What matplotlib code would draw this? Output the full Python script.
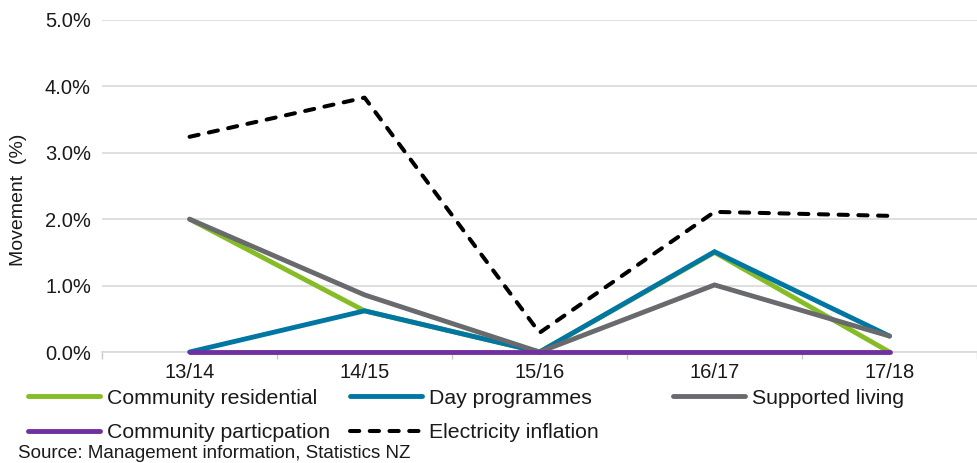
import matplotlib
matplotlib.use("Agg")
import matplotlib.pyplot as plt
from matplotlib.ticker import FuncFormatter, FixedLocator

plt.rcParams['font.family'] = ['Liberation Sans', 'DejaVu Sans']

years = ['13/14', '14/15', '15/16', '16/17', '17/18']
community_residential = [2.0, 0.62, 0.0, 1.50, 0.0]
day_programmes = [0.0, 0.62, 0.0, 1.51, 0.24]
supported_living = [2.0, 0.86, 0.0, 1.01, 0.24]
community_participation = [0.0, 0.0, 0.0, 0.0, 0.0]
electricity_inflation = [3.24, 3.83, 0.29, 2.11, 2.05]

GREEN = '#86BC25'
BLUE = '#0076A3'
GREY = '#696A6D'
PURPLE = '#7030A0'

fig = plt.figure(figsize=(9.77, 4.63), dpi=100)
ax = fig.add_axes([0.1045, 0.2397, 0.8955, 0.7173])

x = list(range(len(years)))
lw = 3.5
l1, = ax.plot(x, community_residential, color=GREEN, lw=lw, solid_capstyle='round',
              solid_joinstyle='miter', label='Community residential', zorder=3, clip_on=False)
l2, = ax.plot(x, day_programmes, color=BLUE, lw=lw, solid_capstyle='round',
              solid_joinstyle='miter', label='Day programmes', zorder=4, clip_on=False)
l3, = ax.plot(x, supported_living, color=GREY, lw=lw, solid_capstyle='round',
              solid_joinstyle='miter', label='Supported living', zorder=5, clip_on=False)
l4, = ax.plot(x, community_participation, color=PURPLE, lw=lw, solid_capstyle='round',
              label='Community particpation', zorder=6, clip_on=False)
l5, = ax.plot(x, electricity_inflation, color='black', lw=2.9, dashes=(2.3, 2.6),
              dash_capstyle='round', label='Electricity inflation', zorder=7)

ax.set_xlim(-0.5, len(years) - 0.5)
ax.set_ylim(0, 5)
ax.set_yticks([0, 1, 2, 3, 4, 5])
ax.yaxis.set_major_formatter(FuncFormatter(lambda v, p: '%.1f%%' % v))
ax.grid(axis='y', color='#D9D9D9', lw=1.2, zorder=0)
ax.set_axisbelow(True)

# category labels centred, tick marks between categories
ax.set_xticks(x)
ax.set_xticklabels(years)
ax.xaxis.set_minor_locator(FixedLocator([i - 0.5 for i in range(len(years) + 1)]))
ax.tick_params(axis='x', which='major', length=0, pad=8, labelsize=14.5, colors='#1a1a1a')
ax.tick_params(axis='x', which='minor', length=5, width=1, color='#C8C8C8', direction='out')
ax.tick_params(axis='y', length=0, pad=8, labelsize=14.5, colors='#1a1a1a')

for s in ['top', 'right', 'left']:
    ax.spines[s].set_visible(False)
ax.spines['bottom'].set_color('#D9D9D9')
ax.spines['bottom'].set_linewidth(1.2)

fig.text(0.019, 1 - 200 / 463, 'Movement  (%)', rotation=90, fontsize=14,
         ha='center', va='center', color='#1a1a1a')

# legend entries laid out on a fixed grid
entries = [(l1, 28, 398), (l2, 350, 398), (l3, 673, 398),
           (l4, 28, 433), (l5, 350, 433)]
W, H = 977.0, 463.0
for line, px, py in entries:
    leg = fig.legend([line], [line.get_label()], loc='center left',
                     bbox_to_anchor=(px / W, 1 - py / H), frameon=False,
                     fontsize=15.3, handlelength=3.4, handletextpad=0.3,
                     borderpad=0, borderaxespad=0)
    for t in leg.get_texts():
        t.set_color('#1a1a1a')

fig.text(18 / W, 1 - 453 / H, 'Source: Management information, Statistics NZ',
         fontsize=13.5, ha='left', va='center', color='#1a1a1a')

fig.savefig('out.png', dpi=100)
